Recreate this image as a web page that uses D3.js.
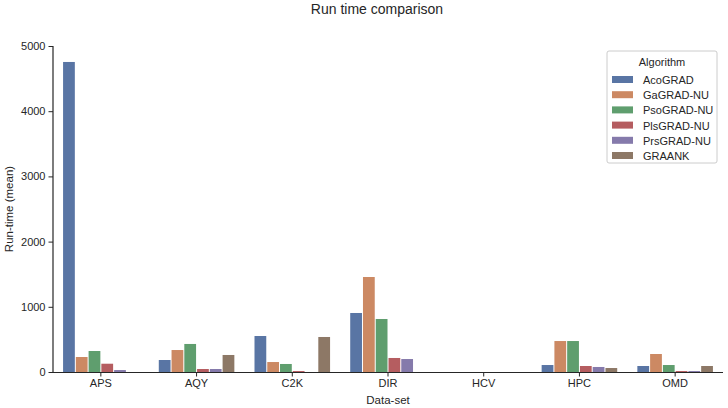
<!DOCTYPE html>
<html><head><meta charset="utf-8">
<script src="https://cdn.jsdelivr.net/npm/d3@7"></script>
<style>body{margin:0;background:#fff;} text{font-family:"Liberation Sans",Arial,sans-serif;fill:#262626;}</style>
</head><body>
<svg id="c" width="728" height="408"></svg>
<script>
const datasets = ["APS","AQY","C2K","DIR","HCV","HPC","OMD"];
const algorithms = ["AcoGRAD","GaGRAD-NU","PsoGRAD-NU","PlsGRAD-NU","PrsGRAD-NU","GRAANK"];
const acoGRAD   = [4755, 184, 552, 905, 0, 107, 92];
const gaGRAD    = [230, 337, 153, 1457, 0, 475, 276];
const psoGRAD   = [322, 430, 123, 813, 0, 475, 107];
const plsGRAD   = [127, 46, 15, 215, 0, 92, 15];
const prsGRAD   = [30, 46, 0, 199, 0, 77, 15];
const graank    = [0, 261, 537, 0, 0, 61, 92];
const yTicks = [0,1000,2000,3000,4000,5000];
const colors = ["#5975a4","#cc8963","#5f9e6e","#b55d60","#857aab","#8d7866"];

const series = [acoGRAD, gaGRAD, psoGRAD, plsGRAD, prsGRAD, graank];
const svg = d3.select("#c");
const m = {l:53, r:5, t:46, b:36};
const W = 728, H = 408;
const x = d3.scaleBand().domain(datasets).range([m.l, W - m.r]).paddingInner(0.2).paddingOuter(0.1);
const xi = d3.scaleBand().domain(algorithms).range([0, x.bandwidth()]);
const y = d3.scaleLinear().domain([0,5000]).range([H - m.b, m.t]);

const g = svg.append("g");
datasets.forEach((d,i)=>{
  algorithms.forEach((a,j)=>{
    const v = series[j][i];
    g.append("rect")
      .attr("x", x(d) + xi(a) + 0.5)
      .attr("width", xi.bandwidth() - 1)
      .attr("y", y(v))
      .attr("height", y(0) - y(v))
      .attr("fill", colors[j]);
  });
});

const xa = svg.append("g").attr("color","#262626").attr("transform",`translate(0,${y(0)})`)
  .call(d3.axisBottom(x).tickSize(4.5).tickPadding(3));
const ya = svg.append("g").attr("color","#262626").attr("transform",`translate(${m.l},0)`)
  .call(d3.axisLeft(y).tickValues(yTicks).tickFormat(d3.format("d")).tickSize(4.5).tickPadding(3));
[xa,ya].forEach(a=>{
  a.selectAll("text").attr("fill","#262626").style("font-size","11px");
  a.selectAll("line").attr("stroke","#262626").attr("stroke-width",1);
});
xa.select(".domain").attr("d",`M${m.l},0.5H${W-m.r}`).attr("stroke","#262626").attr("stroke-width",1.2);
ya.select(".domain").remove();
svg.append("line").attr("x1",m.l).attr("x2",m.l).attr("y1",y(5000)).attr("y2",y(0)+0.5)
  .attr("stroke","#262626").attr("stroke-width",1.2);

svg.append("text").attr("x",377).attr("y",14).attr("text-anchor","middle")
  .style("font-size","14px").text("Run time comparison");
svg.append("text").attr("x",(m.l + W - m.r)/2).attr("y",404).attr("text-anchor","middle")
  .style("font-size","11.5px").text("Data-set");
svg.append("text").attr("transform",`translate(13,${(y(0)+y(5000))/2}) rotate(-90)`)
  .attr("text-anchor","middle").style("font-size","11.5px").text("Run-time (mean)");

// legend
const lg = svg.append("g").attr("transform","translate(607,51)");
lg.append("rect").attr("width",110).attr("height",112).attr("rx",2)
  .attr("fill","#fff").attr("fill-opacity",0.8).attr("stroke","#cccccc").attr("stroke-width",1);
lg.append("text").attr("x",55).attr("y",15).attr("text-anchor","middle").style("font-size","11px").text("Algorithm");
algorithms.forEach((a,j)=>{
  const yy = 24 + j*15.2;
  lg.append("rect").attr("x",5).attr("y",yy+1).attr("width",21).attr("height",7).attr("fill",colors[j]);
  lg.append("text").attr("x",36).attr("y",yy+9).style("font-size","11px").text(a);
});
</script>
</body></html>
